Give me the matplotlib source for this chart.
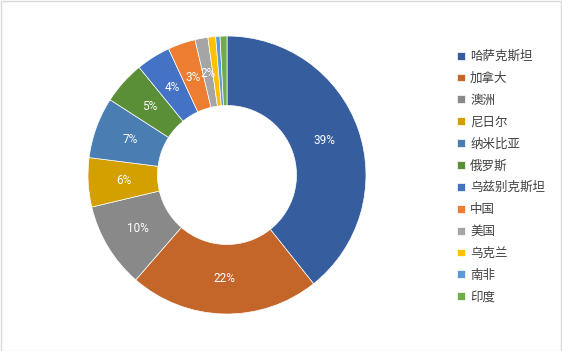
import matplotlib
matplotlib.use("Agg")
import matplotlib.pyplot as plt
from matplotlib.patches import Rectangle
import numpy as np

plt.rcParams['font.family'] = ['Noto Sans CJK SC', 'DejaVu Sans']

countries = ["哈萨克斯坦", "加拿大", "澳洲", "尼日尔", "纳米比亚", "俄罗斯",
             "乌兹别克斯坦", "中国", "美国", "乌克兰", "南非", "印度"]
shares = [39.3, 22.1, 9.9, 5.7, 7.1, 5.0, 4.0, 3.2, 1.5, 0.9, 0.5, 0.8]
colors = ["#365E9F", "#C4662A", "#898989", "#D3A000", "#4A7DB1", "#5A8F37",
          "#4472C4", "#ED7D31", "#A5A5A5", "#FFC000", "#5B9BD5", "#70AD47"]

W, H = 562, 351
fig = plt.figure(figsize=(W / 100, H / 100), dpi=100)
fig.patch.set_facecolor("white")

# chart-area border
fig.add_artist(Rectangle((0.5 / W, 0.5 / H), 1 - 1.5 / W, 1 - 1.5 / H,
                         transform=fig.transFigure, fill=False,
                         edgecolor="#D9D9D9", linewidth=1))

cx, cy, r = 227, 175, 139
ax = fig.add_axes([(cx - r) / W, (H - cy - r) / H, 2 * r / W, 2 * r / H])
wedges, _ = ax.pie(shares, colors=colors, startangle=90, counterclock=False,
                   radius=1, wedgeprops=dict(width=0.5, edgecolor="white", linewidth=0.5))
ax.set_xlim(-1, 1)
ax.set_ylim(-1, 1)
ax.set_aspect("equal")
ax.axis("off")

total = sum(shares)
for w, v in zip(wedges, shares):
    ang = (w.theta1 + w.theta2) / 2
    pct = v / total * 100
    if pct >= 1.2:
        rr = 0.745
        x = rr * np.cos(np.radians(ang))
        y = rr * np.sin(np.radians(ang))
        ax.text(x, y, f"{round(pct):d}%", ha="center", va="center",
                color="white", fontsize=8.5, family=["Roboto", "DejaVu Sans"])

leg = fig.legend(wedges, countries, loc="upper left",
                 bbox_to_anchor=(457 / W, 1 - 50 / H),
                 frameon=False, fontsize=9, handlelength=0.6, handleheight=0.6,
                 handletextpad=0.45, labelspacing=0.71, borderaxespad=0, borderpad=0)
for t in leg.get_texts():
    t.set_color("#404040")

fig.savefig("out.png", dpi=100)
